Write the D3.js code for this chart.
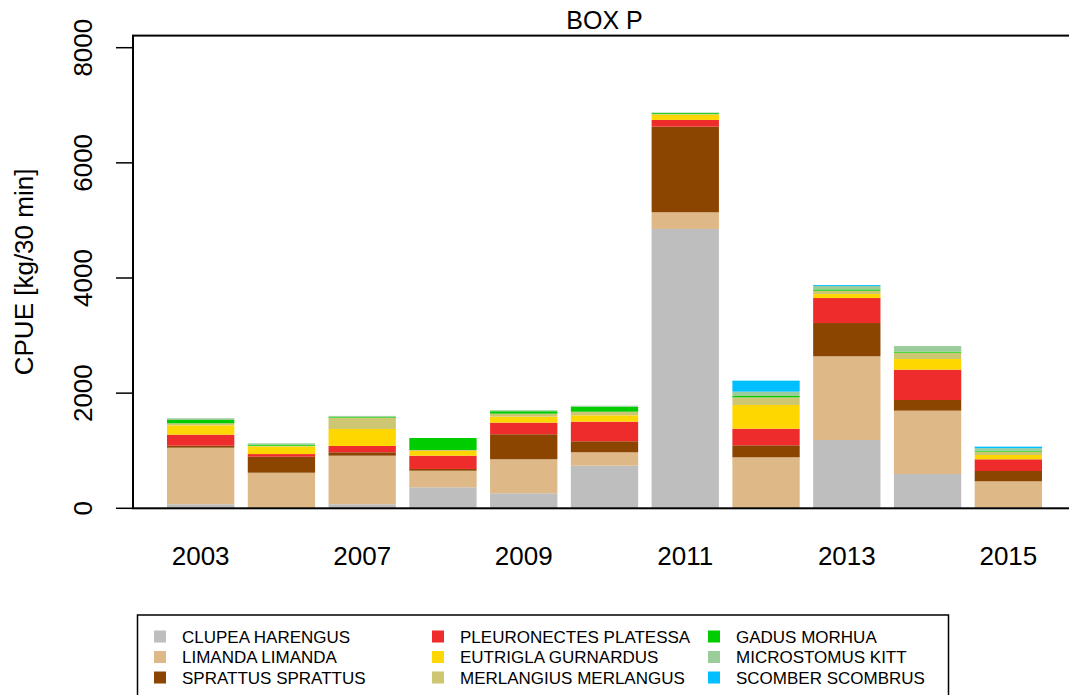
<!DOCTYPE html>
<html>
<head>
<meta charset="utf-8">
<script src="https://cdn.jsdelivr.net/npm/d3@7"></script>
<style>
  body { margin: 0; background: #fff; }
  text { font-family: "Liberation Sans", Arial, sans-serif; fill: #000; }
</style>
</head>
<body>
<div id="chart"></div>
<script>
// years (every other label is hidden, as in the original)
const years = [2003, 2005, 2007, 2008, 2009, 2010, 2011, 2012, 2013, 2014, 2015];

// CPUE per species, kg/30 min, bottom to top of each stack
const clupea       = [70, 0, 70, 365, 261, 740, 4852, 0, 1186, 596, 10];
const limanda      = [983, 618, 844, 288, 591, 233, 290, 886, 1454, 1100, 459];
const sprattus     = [35, 278, 59, 30, 434, 191, 1487, 208, 578, 185, 179];
const pleuronectes = [191, 46, 110, 231, 202, 340, 116, 288, 434, 527, 203];
const eutrigla     = [162, 134, 295, 82, 104, 111, 92, 412, 69, 185, 75];
const merlangius   = [35, 10, 197, 17, 52, 63, 10, 134, 58, 110, 58];
const gadus        = [58, 20, 15, 208, 42, 87, 17, 23, 23, 17, 17];
const microstomus  = [30, 23, 15, 0, 17, 17, 10, 75, 58, 98, 42];
const scomber      = [0, 0, 0, 0, 0, 0, 0, 191, 17, 0, 28];

const species = ["CLUPEA HARENGUS", "LIMANDA LIMANDA", "SPRATTUS SPRATTUS",
  "PLEURONECTES PLATESSA", "EUTRIGLA GURNARDUS", "MERLANGIUS MERLANGUS",
  "GADUS MORHUA", "MICROSTOMUS KITT", "SCOMBER SCOMBRUS"];
const seriesValues = [clupea, limanda, sprattus, pleuronectes, eutrigla,
  merlangius, gadus, microstomus, scomber];
const colors = ["#BEBEBE", "#DEB887", "#8B4500", "#EE2C2C", "#FFD700",
  "#CDC673", "#00CD00", "#9BCD9B", "#00BFFF"];
const yTicks = [0, 2000, 4000, 6000, 8000];

const width = 1069;
const height = 695;

const rows = years.map((yr, i) => {
  const r = { year: yr };
  species.forEach((s, j) => r[s] = seriesValues[j][i]);
  return r;
});

const svg = d3.select('#chart')
  .append('svg')
  .attr('width', width)
  .attr('height', height);

// R barplot style: bars 1 unit wide, 0.2 spacing, 4% extension
const u = d3.scaleLinear().domain([-0.32, 13.72]).range([132, 1077]);
const x = d3.scaleBand()
  .domain(years)
  .range([u(0.2), u(13.2)])
  .paddingInner(1 / 6)
  .paddingOuter(0);
const y = d3.scaleLinear().domain([0, 8000]).range([508.3, 47.7]);

const stack = d3.stack().keys(species)(rows);

svg.append('g')
  .selectAll('g')
  .data(stack)
  .join('g')
  .attr('fill', (d, i) => colors[i])
  .selectAll('rect')
  .data(d => d)
  .join('rect')
  .attr('x', d => x(d.data.year))
  .attr('y', d => y(d[1]))
  .attr('height', d => y(d[0]) - y(d[1]))
  .attr('width', x.bandwidth());

// plot box
svg.append('rect')
  .attr('x', 133)
  .attr('y', y(8210))
  .attr('width', u(13.72) - 133)
  .attr('height', y(0) - y(8210))
  .attr('fill', 'none')
  .attr('stroke', '#000')
  .attr('stroke-width', 2);

// y axis
const yAxis = svg.append('g');
yAxis.selectAll('line')
  .data(yTicks)
  .join('line')
  .attr('x1', 116).attr('x2', 133)
  .attr('y1', d => y(d)).attr('y2', d => y(d))
  .attr('stroke', '#000')
  .attr('stroke-width', 1.5);
yAxis.selectAll('text')
  .data(yTicks)
  .join('text')
  .attr('transform', d => `translate(92,${y(d)}) rotate(-90)`)
  .attr('text-anchor', 'middle')
  .attr('font-size', '26px')
  .text(d => d);

// x labels (alternate ones only)
svg.append('g')
  .selectAll('text')
  .data(years.filter((d, i) => i % 2 === 0))
  .join('text')
  .attr('x', d => x(d) + x.bandwidth() / 2)
  .attr('y', 565)
  .attr('text-anchor', 'middle')
  .attr('font-size', '26px')
  .text(d => d);

svg.append('text')
  .attr('transform', `translate(33,${(y(0) + y(8210)) / 2}) rotate(-90)`)
  .attr('text-anchor', 'middle')
  .attr('font-size', '26px')
  .text('CPUE [kg/30 min]');

svg.append('text')
  .attr('x', (132 + 1077) / 2)
  .attr('y', 29)
  .attr('text-anchor', 'middle')
  .attr('font-size', '25px')
  .text('BOX P');

// legend
const legend = svg.append('g');
legend.append('rect')
  .attr('x', 137.5).attr('y', 615)
  .attr('width', 811).attr('height', 100)
  .attr('fill', 'none')
  .attr('stroke', '#000')
  .attr('stroke-width', 1.5);

const colX = [160, 438, 714];
const rowY = [636.5, 657, 677.5];
const item = legend.selectAll('g.item')
  .data(species)
  .join('g')
  .attr('class', 'item')
  .attr('transform', (d, i) => `translate(${colX[Math.floor(i / 3)]},${rowY[i % 3]})`);
item.append('rect')
  .attr('x', -6).attr('y', -6)
  .attr('width', 12).attr('height', 12)
  .attr('fill', (d, i) => colors[i]);
item.append('text')
  .attr('x', 22)
  .attr('y', 6)
  .attr('font-size', '17px')
  .text(d => d);
</script>
</body>
</html>
